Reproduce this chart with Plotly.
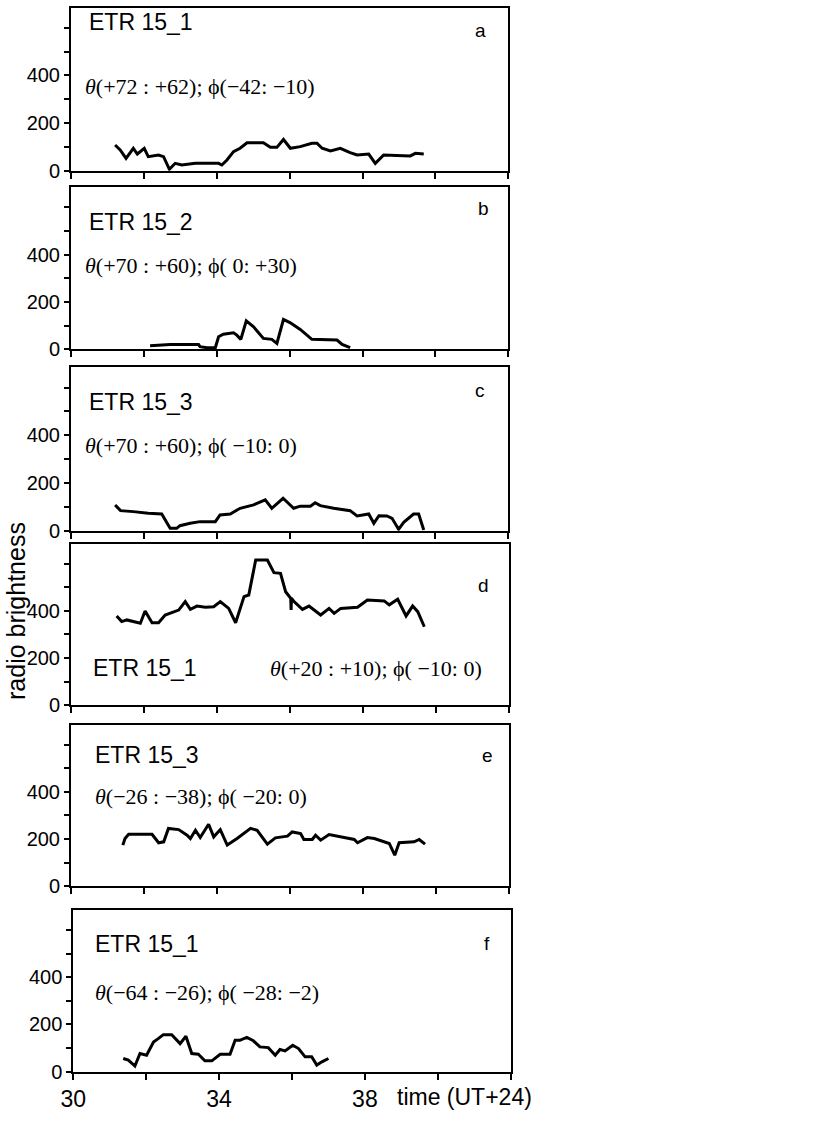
import plotly.graph_objects as go

W, H = 818, 1122

# ---------------- data (time in hours UT+24, radio brightness) ----------------
t_a = [31.21, 31.35, 31.51, 31.71, 31.82, 32.01, 32.12, 32.40, 32.54, 32.63, 32.70, 32.86,
       33.04, 33.41, 34.05, 34.14, 34.28, 34.46, 34.64, 34.83, 35.28, 35.47, 35.65, 35.83,
       36.02, 36.29, 36.61, 36.75, 36.89, 37.12, 37.39, 37.66, 37.85, 38.17, 38.35, 38.58,
       39.31, 39.45, 39.68]
v_a = [108, 87, 52, 94, 70, 94, 59, 66, 59, 31, 6, 31,
       24, 31, 31, 24, 45, 80, 94, 117, 117, 98, 98, 131,
       94, 101, 115, 115, 94, 83, 94, 76, 66, 70, 31, 66,
       62, 73, 70]

t_b = [32.17, 32.72, 33.50, 33.54, 33.73, 33.96, 34.05, 34.18, 34.46, 34.55, 34.66, 34.81,
       35.01, 35.28, 35.51, 35.65, 35.83, 36.02, 36.29, 36.61, 37.30, 37.44, 37.66]
v_b = [15, 20, 20, 11, 7, 7, 53, 64, 70, 60, 42, 120,
       95, 46, 42, 25, 126, 112, 84, 42, 39, 21, 7]

t_c = [31.21, 31.36, 31.71, 32.12, 32.49, 32.63, 32.72, 32.90, 32.99, 33.27, 33.54, 33.96,
       34.09, 34.37, 34.64, 35.01, 35.33, 35.51, 35.82, 36.11, 36.29, 36.57, 36.70, 36.84,
       37.21, 37.66, 37.85, 38.17, 38.31, 38.45, 38.67, 38.81, 38.99, 39.13, 39.40, 39.54,
       39.68]
v_c = [108, 84, 80, 73, 70, 31, 10, 10, 21, 31, 38, 38,
       66, 70, 94, 108, 129, 94, 136, 94, 103, 103, 117, 105,
       94, 84, 62, 70, 31, 63, 62, 52, 6, 35, 70, 70,
       3]

t_d = [31.25, 31.39, 31.53, 31.90, 32.03, 32.22, 32.40, 32.58, 32.95, 33.13, 33.27, 33.45,
       33.68, 33.91, 34.09, 34.32, 34.51, 34.74, 34.87, 35.06, 35.38, 35.56, 35.74, 35.88,
       36.02, 36.03, 36.04, 36.11, 36.34, 36.52, 36.84, 37.07, 37.21, 37.39, 37.85, 38.12,
       38.58, 38.72, 38.95, 39.18, 39.36, 39.50, 39.68]
v_d = [379, 355, 362, 348, 400, 350, 350, 383, 404, 440, 407, 421,
       416, 418, 440, 411, 350, 461, 468, 617, 617, 563, 560, 482,
       454, 404, 454, 440, 407, 421, 383, 411, 390, 411, 416, 447,
       443, 426, 450, 379, 421, 397, 333]

t_e = [31.42, 31.48, 31.58, 32.22, 32.40, 32.54, 32.67, 32.95, 33.18, 33.27, 33.41, 33.54,
       33.77, 33.91, 34.09, 34.28, 34.55, 34.92, 35.10, 35.38, 35.60, 35.93, 36.06, 36.29,
       36.38, 36.61, 36.70, 36.84, 37.07, 37.39, 37.76, 37.85, 38.12, 38.31, 38.58, 38.72,
       38.87, 38.99, 39.40, 39.54, 39.70]
v_e = [174, 202, 220, 220, 184, 188, 245, 240, 216, 202, 237, 206,
       263, 209, 240, 174, 202, 245, 237, 178, 205, 212, 230, 223,
       198, 198, 216, 195, 219, 209, 198, 184, 206, 202, 188, 181,
       131, 184, 188, 198, 178]

t_f = [31.37, 31.51, 31.69, 31.83, 32.01, 32.20, 32.33, 32.47, 32.70, 32.93, 33.09, 33.25,
       33.43, 33.61, 33.80, 34.03, 34.30, 34.44, 34.57, 34.76, 34.94, 35.12, 35.35, 35.54,
       35.67, 35.81, 36.02, 36.18, 36.36, 36.54, 36.68, 36.82, 37.00]
v_f = [56, 49, 24, 77, 70, 126, 140, 157, 157, 119, 150, 77,
       74, 46, 46, 74, 74, 133, 133, 145, 131, 105, 102, 70,
       94, 88, 112, 98, 63, 63, 28, 42, 56]

x_ticks = [30, 32, 34, 36, 38, 40, 42]
x_tick_text = ["30", "", "34", "", "38", "", ""]
y_ticks = [0, 100, 200, 300, 400, 500, 600]
y_tick_text = ["0", "", "200", "", "400", "", ""]

letters = ["a", "b", "c", "d", "e", "f"]
etr_labels = ["ETR 15_1", "ETR 15_2", "ETR 15_3", "ETR 15_1", "ETR 15_3", "ETR 15_1"]
coord_labels = [
    "<i>θ</i>(+72 : +62); ϕ(−42: −10)",
    "<i>θ</i>(+70 : +60); ϕ( 0: +30)",
    "<i>θ</i>(+70 : +60); ϕ( −10: 0)",
    "<i>θ</i>(+20 : +10); ϕ( −10: 0)",
    "<i>θ</i>(−26 : −38); ϕ( −20: 0)",
    "<i>θ</i>(−64 : −26); ϕ( −28: −2)",
]
series = [(t_a, v_a), (t_b, v_b), (t_c, v_c), (t_d, v_d), (t_e, v_e), (t_f, v_f)]

# ---------------- layout geometry (pixels) ----------------
frames = [  # left, right, top, bottom(zero line)
    (71, 508.3, 7.5, 170.7),
    (71, 508.3, 187.3, 349.3),
    (71, 508.3, 367.3, 530.7),
    (71, 509.0, 544.0, 705.0),
    (71, 509.0, 725.0, 886.0),
    (73.3, 510.7, 910.0, 1071.7),
]
Y_TOP = 685
etr_pos = [(87, 22.5), (87, 222), (87, 402), (91, 667.5), (93, 755), (93, 944)]
coord_pos = [(83, 86), (83, 265), (83, 446), (268, 668), (93, 796), (93, 992)]
letter_pos = [(481, 30.7), (483, 208), (480, 390), (483, 585), (487, 755), (487, 943)]

SANS = "Liberation Sans, Arial, sans-serif"
SERIF = "Liberation Serif, Times New Roman, serif"


def px(x):
    return x / W


def py(y):
    return min(1.0, max(0.0, 1 - y / H))


fig = go.Figure()
layout = dict(
    width=W, height=H,
    margin=dict(l=0, r=0, t=0, b=0, autoexpand=False),
    paper_bgcolor="white", plot_bgcolor="white",
    showlegend=False,
)
annotations = []

for i, ((t, v), (l, r, top, bot)) in enumerate(zip(series, frames)):
    n = i + 1
    xa = "x" if n == 1 else f"x{n}"
    ya = "y" if n == 1 else f"y{n}"
    fig.add_trace(go.Scatter(x=t, y=v, mode="lines", xaxis=xa, yaxis=ya,
                             line=dict(color="black", width=3), hoverinfo="skip"))
    last = (n == 6)
    layout[f"xaxis{n}" if n > 1 else "xaxis"] = dict(
        domain=[px(l), px(r)], anchor=ya, range=[30, 42],
        tickmode="array", tickvals=x_ticks,
        ticktext=x_tick_text if last else [""] * len(x_ticks),
        ticks="outside", ticklen=6, tickwidth=1.5, tickcolor="black",
        showline=True, linecolor="black", linewidth=2, mirror=True,
        showgrid=False, zeroline=False, automargin=False,
        tickfont=dict(family=SANS, size=23, color="black"),
    )
    layout[f"yaxis{n}" if n > 1 else "yaxis"] = dict(
        domain=[py(bot), py(top)], anchor=xa, range=[0, Y_TOP],
        tickmode="array", tickvals=y_ticks, ticktext=y_tick_text,
        ticks="outside", ticklen=5, tickwidth=1.5, tickcolor="black",
        showline=True, linecolor="black", linewidth=2, mirror=True,
        showgrid=False, zeroline=False, automargin=False,
        tickfont=dict(family=SANS, size=20, color="black"),
    )
    ex, ey = etr_pos[i]
    annotations.append(dict(text=etr_labels[i], x=px(ex), y=py(ey), xref="paper", yref="paper",
                            xanchor="left", yanchor="middle", showarrow=False,
                            font=dict(family=SANS, size=23, color="black")))
    cx, cy = coord_pos[i]
    annotations.append(dict(text=coord_labels[i], x=px(cx), y=py(cy), xref="paper", yref="paper",
                            xanchor="left", yanchor="middle", showarrow=False,
                            font=dict(family=SERIF, size=22, color="black")))
    lx, ly = letter_pos[i]
    annotations.append(dict(text=letters[i], x=px(lx), y=py(ly), xref="paper", yref="paper",
                            xanchor="center", yanchor="middle", showarrow=False,
                            font=dict(family=SANS, size=19, color="black")))

annotations.append(dict(text="radio brightness", x=0, y=py(611), xref="paper", yref="paper",
                        xanchor="left", yanchor="middle", textangle=-90, showarrow=False,
                        font=dict(family=SANS, size=25, color="black")))
annotations.append(dict(text="time (UT+24)", x=px(395), y=py(1097), xref="paper", yref="paper",
                        xanchor="left", yanchor="middle", showarrow=False,
                        font=dict(family=SANS, size=23, color="black")))
layout["annotations"] = annotations
fig.update_layout(**layout)
fig.write_html(
    "out.html",
    config={"displayModeBar": False},
    post_script="document.body.style.margin='0';document.body.style.overflow='hidden';",
)
